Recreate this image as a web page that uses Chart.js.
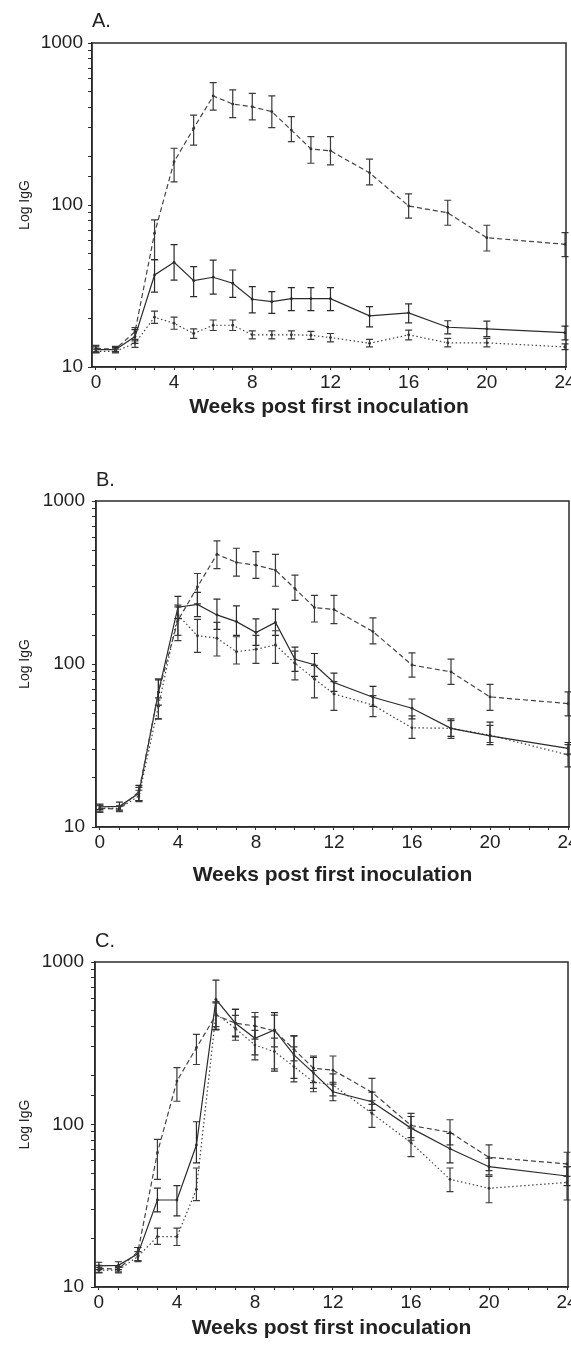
<!DOCTYPE html>
<html>
<head>
<meta charset="utf-8">
<script src="https://cdn.jsdelivr.net/npm/chart.js@4.4.1/dist/chart.umd.min.js"></script>
<style>
  html, body { margin: 0; padding: 0; background: #ffffff; }
  #page { position: relative; width: 571px; height: 1346px; background: #ffffff; }
  canvas { position: absolute; left: 0; }
</style>
</head>
<body>
<div id="page">
  <canvas id="panelA" width="571" height="425" style="top:0px"></canvas>
  <canvas id="panelB" width="571" height="450" style="top:440px"></canvas>
  <canvas id="panelC" width="571" height="456" style="top:890px"></canvas>
</div>
<script>
// ---------------- data ----------------
const weeks = [0, 1, 2, 3, 4, 5, 6, 7, 8, 9, 10, 11, 12, 14, 16, 18, 20, 24];
const xTickPositions = [0,1,2,3,4,5,6,7,8,9,10,11,12,13,14,15,16,17,18,19,20,21,22,23,24];
const xTickLabels = [0, 4, 8, 12, 16, 20, 24];
const yTickLabels = [10, 100, 1000];
const panelTitles = ['A.', 'B.', 'C.'];
const xAxisTitle = 'Weeks post first inoculation';
const yAxisTitle = 'Log IgG';

// dashed group (same in all three panels)
const dashedMean = [13.0, 12.9, 16.5, 67, 185, 297, 471, 420, 404, 377, 290, 222, 216, 158, 98.6, 89.5, 62.8, 57.2];
const dashedLow  = [12.3, 12.4, 14.5, 46, 139, 234, 385, 346, 335, 300, 246, 181, 177, 133, 83, 75, 52, 48];
const dashedHigh = [13.6, 13.4, 17.5, 81, 224, 359, 569, 513, 489, 471, 351, 264, 264, 192, 117, 107, 75, 67.5];

// panel A
const aSolidMean  = [12.8, 12.8, 15.4, 37, 44.3, 34.1, 35.8, 32.9, 26.2, 25.3, 26.4, 26.4, 26.4, 20.7, 21.6, 17.6, 17.2, 16.3];
const aSolidLow   = [12.4, 12.4, 14.0, 29, 34.4, 27.2, 28.2, 26.9, 21.6, 21.4, 22.3, 22.3, 22.3, 17.7, 18.7, 16.0, 15.4, 14.7];
const aSolidHigh  = [13.3, 13.2, 17.0, 46, 57.0, 41.6, 45.7, 39.7, 31.3, 29.2, 30.9, 30.9, 30.9, 23.6, 24.5, 19.3, 19.2, 17.9];
const aDottedMean = [12.5, 12.5, 14.0, 20.3, 18.6, 16.1, 18.1, 18.1, 15.8, 15.8, 15.8, 15.7, 15.2, 14.0, 15.8, 14.1, 14.1, 13.3];
const aDottedLow  = [12.2, 12.2, 13.2, 18.6, 17.1, 15.0, 16.8, 16.8, 14.9, 14.9, 14.9, 14.8, 14.3, 13.3, 14.7, 13.3, 13.3, 12.8];
const aDottedHigh = [12.9, 12.9, 14.8, 22.1, 20.3, 17.2, 19.5, 19.5, 16.7, 16.7, 16.7, 16.6, 16.1, 14.8, 16.9, 15.0, 15.0, 13.9];

// panel B
const bSolidMean  = [13.3, 13.4, 16.1, 67, 223, 232, 200, 182, 156, 180, 107, 99, 77, 62.5, 53.5, 40.3, 36.2, 30.4];
const bSolidLow   = [12.8, 12.7, 14.5, 56, 190, 195, 163, 150, 130, 150, 90, 84, 68, 55, 46, 36, 32, 28];
const bSolidHigh  = [13.8, 14.2, 18.0, 80, 260, 275, 250, 227, 189, 217, 127, 116, 88, 73, 61, 46, 44, 33];
const bDottedMean = [13.0, 13.0, 15.5, 55, 200, 149, 144, 119, 123, 131, 101, 81, 65.5, 56, 40.6, 40.3, 36.6, 27.7];
const bDottedLow  = [12.5, 12.5, 14.3, 46, 150, 118, 112, 100, 101, 101, 80, 62, 52, 47.5, 35, 35, 33, 23.4];
const bDottedHigh = [13.5, 13.5, 16.8, 62, 230, 188, 180, 147, 150, 160, 120, 98, 78, 64, 48, 45, 42, 32];

// panel C
const cSolidMean  = [13.5, 13.6, 16.0, 34.3, 34.3, 74.8, 589, 420, 339, 382, 268, 208, 159, 138, 95, 71, 55, 48.2];
const cSolidLow   = [12.8, 12.8, 14.5, 29, 27.4, 58, 382, 350, 268, 213, 192, 167, 140, 122, 80, 58, 49, 42];
const cSolidHigh  = [14.2, 14.3, 17.5, 40.6, 42, 104, 774, 510, 460, 488, 351, 259, 182, 158, 112, 88, 62, 55];
const cDottedMean = [12.7, 12.7, 15.4, 20.4, 20.4, 39.9, 480, 390, 308, 281, 227, 183, 175, 117, 77.3, 46, 40.5, 44];
const cDottedLow  = [12.2, 12.2, 14.3, 18.3, 18.0, 34, 400, 330, 250, 220, 183, 159, 150, 96, 63.4, 38.6, 33, 34.3];
const cDottedHigh = [13.2, 13.2, 16.5, 23, 23, 54, 560, 470, 380, 340, 300, 215, 205, 140, 95, 54, 48, 55];

// ---------------- drawing ----------------
const FONT = '"Liberation Sans", Arial, Helvetica, sans-serif';
const INK = '#2b2b2b';

const errorBarPlugin = {
  id: 'errorBarsAndFrame',
  afterDatasetsDraw(chart) {
    const ctx = chart.ctx;
    const xs = chart.scales.x, ys = chart.scales.y;
    ctx.save();
    chart.data.datasets.forEach((ds) => {
      if (!ds.errLow) return;
      ctx.strokeStyle = ds.errColor || INK;
      ctx.lineWidth = 1.2;
      ctx.setLineDash([]);
      ds.data.forEach((pt, i) => {
        const px = xs.getPixelForValue(pt.x);
        const yl = ys.getPixelForValue(ds.errLow[i]);
        const yh = ys.getPixelForValue(ds.errHigh[i]);
        ctx.beginPath();
        ctx.moveTo(px, yl); ctx.lineTo(px, yh);
        ctx.moveTo(px - 3.5, yl); ctx.lineTo(px + 3.5, yl);
        ctx.moveTo(px - 3.5, yh); ctx.lineTo(px + 3.5, yh);
        ctx.stroke();
      });
    });
    const a = chart.chartArea;
    ctx.strokeStyle = INK;
    ctx.lineWidth = 1.5;
    ctx.strokeRect(a.left, a.top, a.right - a.left, a.bottom - a.top);
    ctx.restore();
  }
};

function series(means, lows, highs, style) {
  const base = {
    data: weeks.map((w, i) => ({ x: w, y: means[i] })),
    errLow: lows,
    errHigh: highs,
    borderColor: INK,
    backgroundColor: INK,
    borderWidth: 1.2,
    pointRadius: 1.4,
    pointHoverRadius: 1.4,
    pointBackgroundColor: INK,
    pointBorderWidth: 0,
    tension: 0,
    fill: false
  };
  if (style === 'dashed') { base.borderDash = [5, 3]; base.borderColor = '#444'; base.errColor = '#3a3a3a'; }
  if (style === 'dotted') { base.borderDash = [1.5, 2.5]; base.borderColor = '#444'; base.errColor = '#3a3a3a'; }
  return base;
}

function near(list, v) { return list.some(t => Math.abs(t - v) < 1e-6); }

function makePanel(id, cfg) {
  const ctx = document.getElementById(id).getContext('2d');
  return new Chart(ctx, {
    type: 'line',
    data: { datasets: cfg.datasets },
    options: {
      responsive: false,
      animation: false,
      devicePixelRatio: 1,
      layout: { padding: { left: 0, right: cfg.padRight, top: 0, bottom: 0 } },
      plugins: {
        legend: { display: false },
        tooltip: { enabled: false },
        title: {
          display: true, text: cfg.title, align: 'start', fullSize: false,
          color: '#222', font: { family: FONT, size: 20, weight: 'normal' },
          padding: { top: cfg.titleTop, bottom: cfg.titleBottom }
        }
      },
      scales: {
        x: {
          type: 'linear', min: -0.2, max: 24.05,
          afterBuildTicks: (s) => { s.ticks = xTickPositions.map(v => ({ value: v })); },
          afterFit: (s) => { s.height = cfg.xHeight; s.paddingLeft = 0; s.paddingRight = 0; },
          ticks: {
            autoSkip: false, maxRotation: 0, minRotation: 0, padding: 1,
            color: '#222', font: { family: FONT, size: 19 },
            callback: (v) => near(xTickLabels, v) ? String(v) : ''
          },
          grid: { drawOnChartArea: false, drawTicks: true, tickLength: 3, color: INK, lineWidth: 1 },
          border: { display: true, color: INK, width: 1.5 },
          title: {
            display: true, text: xAxisTitle, color: '#222',
            font: { family: FONT, size: 21, weight: 'bold' },
            padding: { top: 0, bottom: cfg.xTitleBottom }
          }
        },
        y: {
          type: 'logarithmic', min: 10, max: 1000,
          afterFit: (s) => { s.width = cfg.left; },
          ticks: {
            autoSkip: false, padding: cfg.yTickPad,
            color: '#222', font: { family: FONT, size: 19 },
            callback: (v) => near(yTickLabels, v) ? String(v) : ''
          },
          grid: { drawOnChartArea: false, drawTicks: true, tickLength: 4, color: INK, lineWidth: 1 },
          border: { display: true, color: INK, width: 1.5 },
          title: {
            display: true, text: yAxisTitle, color: '#222',
            font: { family: FONT, size: 14 },
            padding: { top: 16.6, bottom: 0 }
          }
        }
      }
    },
    plugins: [errorBarPlugin]
  });
}

makePanel('panelA', {
  title: panelTitles[0], left: 92, padRight: 5, titleTop: 9, titleBottom: 10,
  xHeight: 58, xTitleBottom: 5.4, yTickPad: 5,
  datasets: [
    series(dashedMean, dashedLow, dashedHigh, 'dashed'),
    series(aSolidMean, aSolidLow, aSolidHigh, 'solid'),
    series(aDottedMean, aDottedLow, aDottedHigh, 'dotted')
  ]
});

makePanel('panelB', {
  title: panelTitles[1], left: 96, padRight: 2, titleTop: 28, titleBottom: 9,
  xHeight: 63, xTitleBottom: 2.4, yTickPad: 7,
  datasets: [
    series(dashedMean, dashedLow, dashedHigh, 'dashed'),
    series(bSolidMean, bSolidLow, bSolidHigh, 'solid'),
    series(bDottedMean, bDottedLow, bDottedHigh, 'dotted')
  ]
});

makePanel('panelC', {
  title: panelTitles[2], left: 95, padRight: 3, titleTop: 39, titleBottom: 9,
  xHeight: 59, xTitleBottom: 5.4, yTickPad: 7,
  datasets: [
    series(dashedMean, dashedLow, dashedHigh, 'dashed'),
    series(cSolidMean, cSolidLow, cSolidHigh, 'solid'),
    series(cDottedMean, cDottedLow, cDottedHigh, 'dotted')
  ]
});
</script>
</body>
</html>
